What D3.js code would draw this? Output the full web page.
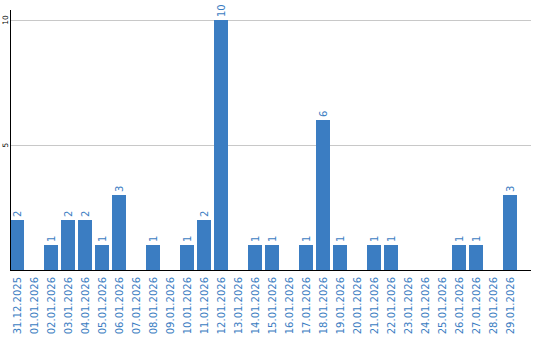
<!DOCTYPE html>
<html><head><meta charset="utf-8">
<script src="https://cdn.jsdelivr.net/npm/d3@7/dist/d3.min.js"></script>
<style>body{margin:0;background:#fff}svg{display:block}</style>
</head><body><svg id="c" width="540" height="340"></svg>
<script>
const categories = ["31.12.2025","01.01.2026","02.01.2026","03.01.2026","04.01.2026","05.01.2026","06.01.2026","07.01.2026","08.01.2026","09.01.2026","10.01.2026","11.01.2026","12.01.2026","13.01.2026","14.01.2026","15.01.2026","16.01.2026","17.01.2026","18.01.2026","19.01.2026","20.01.2026","21.01.2026","22.01.2026","23.01.2026","24.01.2026","25.01.2026","26.01.2026","27.01.2026","28.01.2026","29.01.2026"];
const values = [2,0,1,2,2,1,3,0,1,0,1,2,10,0,1,1,0,1,6,1,0,1,1,0,0,0,1,1,0,3];
const yTicks = [5,10];

const svg = d3.select("#c");
const blue = "#3b7dc2";
const x = d3.scaleBand().domain(categories).range([10,517]).paddingInner(3/17).paddingOuter(0);
const y = d3.scaleLinear().domain([0,10]).range([270,20]);

// gridlines
svg.append("g").selectAll("line").data(yTicks).join("line")
  .attr("x1",10).attr("x2",531)
  .attr("y1",d=>Math.round(y(d))+0.5).attr("y2",d=>Math.round(y(d))+0.5)
  .attr("stroke","#c8c8c8").attr("stroke-width",1);

// bars
svg.append("g").selectAll("rect").data(values).join("rect")
  .attr("x",(d,i)=>x(categories[i]))
  .attr("width",x.bandwidth())
  .attr("y",d=>y(d))
  .attr("height",d=>y(0)-y(d))
  .attr("fill",blue);

// value labels
svg.append("g").selectAll("text").data(values.map((v,i)=>({v,i})).filter(d=>d.v>0)).join("text")
  .attr("transform",d=>`translate(${x(categories[d.i])+x.bandwidth()/2},${y(d.v)-3}) rotate(-90)`)
  .attr("text-anchor","start").attr("dominant-baseline","central")
  .attr("font-family","DejaVu Sans").attr("font-size",10).attr("fill",blue)
  .text(d=>d.v);

// axes lines
svg.append("line").attr("x1",10.5).attr("x2",10.5).attr("y1",10).attr("y2",270).attr("stroke","#000");
svg.append("line").attr("x1",10).attr("x2",531).attr("y1",270.5).attr("y2",270.5).attr("stroke","#000");

// y tick labels
svg.append("g").selectAll("text").data(yTicks).join("text")
  .attr("transform",d=>`translate(5,${y(d)}) rotate(-90)`)
  .attr("text-anchor","middle").attr("dominant-baseline","central")
  .attr("font-family","DejaVu Sans").attr("font-size",7.5).attr("fill","#000")
  .text(d=>d);

// x labels
svg.append("g").selectAll("text").data(categories).join("text")
  .attr("transform",d=>`translate(${x(d)+x.bandwidth()/2},277) rotate(-90)`)
  .attr("text-anchor","end").attr("dominant-baseline","central")
  .attr("font-family","DejaVu Sans").attr("font-size",10).attr("fill",blue)
  .text(d=>d);
</script></body></html>
